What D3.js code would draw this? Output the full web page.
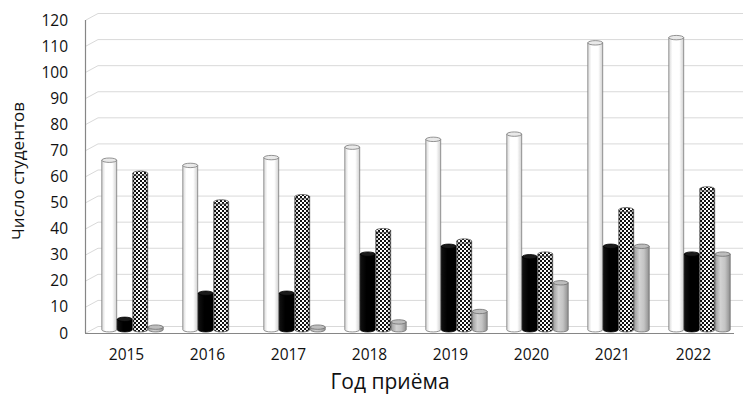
<!DOCTYPE html>
<html>
<head>
<meta charset="utf-8">
<script src="https://cdn.jsdelivr.net/npm/d3@7"></script>
<style>
  html, body { margin: 0; padding: 0; background: #fff; }
  svg { display: block; font-family: "Open Sans", "Noto Sans", sans-serif; }
</style>
</head>
<body>
<svg id="chart" width="743" height="397"></svg>
<script>
// Admission years and four groups of students per year
const years = ["2015", "2016", "2017", "2018", "2019", "2020", "2021", "2022"];
const seriesNames = ["s1", "s2", "s3", "s4"];
const s1 = [65, 63, 66, 70, 73, 75, 110, 112];
const s2 = [4, 14, 14, 29, 32, 28, 32, 29];
const s3 = [60, 49, 51, 38, 34, 29, 46, 54];
const s4 = [1, 0, 1, 3, 7, 18, 32, 29];
const yTicks = [0, 10, 20, 30, 40, 50, 60, 70, 80, 90, 100, 110, 120];
const xTitle = "Год приёма";
const yTitle = "Число студентов";

const seriesValues = [s1, s2, s3, s4];

const svg = d3.select("#chart");
const defs = svg.append("defs");

// Depth offset of the 3D box (front edge -> back wall)
const depthX = 12, depthY = -6.5;

const y = d3.scaleLinear().domain([0, 120]).range([333, 20]);
const x = d3.scaleBand().domain(years).range([86, 734]).paddingInner(0);
const xs = d3.scaleBand().domain(seriesNames).range([-31, 31]).paddingInner(0);

// Cylinder shading gradients
function hGrad(id, stops) {
  const g = defs.append("linearGradient").attr("id", id)
    .attr("x1", "0%").attr("x2", "100%").attr("y1", "0%").attr("y2", "0%");
  stops.forEach(([o, c]) => g.append("stop").attr("offset", o).attr("stop-color", c));
}
hGrad("gWhite", [["0%", "#d8d8d8"], ["25%", "#ffffff"], ["70%", "#ffffff"], ["100%", "#cfcfcf"]]);
hGrad("gBlack", [["0%", "#111"], ["40%", "#000"], ["100%", "#000"]]);
hGrad("gGray", [["0%", "#9e9e9e"], ["35%", "#d2d2d2"], ["65%", "#c4c4c4"], ["100%", "#8f8f8f"]]);
hGrad("gShade", [["0%", "rgba(0,0,0,0.25)"], ["30%", "rgba(0,0,0,0)"], ["70%", "rgba(0,0,0,0)"], ["100%", "rgba(0,0,0,0.3)"]]);

// Checkerboard pattern
const pat = defs.append("pattern").attr("id", "pChecker")
  .attr("width", 4).attr("height", 4).attr("patternUnits", "userSpaceOnUse");
pat.append("rect").attr("width", 4).attr("height", 4).attr("fill", "#fff");
pat.append("rect").attr("width", 2).attr("height", 2).attr("fill", "#111");
pat.append("rect").attr("x", 2).attr("y", 2).attr("width", 2).attr("height", 2).attr("fill", "#111");

const styles = [
  { body: "url(#gWhite)", top: "#e9e9e9", stroke: "#7a7a7a" },
  { body: "url(#gBlack)", top: "#1a1a1a", stroke: "#000" },
  { body: "url(#pChecker)", top: "url(#pChecker)", stroke: "#555", shade: true },
  { body: "url(#gGray)", top: "#bdbdbd", stroke: "#6e6e6e" }
];

// Gridlines: diagonal on the side wall, then across the back wall
const grid = svg.append("g");
yTicks.forEach(v => {
  const yf = y(v);
  grid.append("path")
    .attr("d", `M86,${yf} L${86 + depthX},${yf + depthY} L743,${yf + depthY}`)
    .attr("fill", "none").attr("stroke", "#d9d9d9").attr("stroke-width", 1);
});

// Axis lines
svg.append("line").attr("x1", 85.5).attr("x2", 85.5).attr("y1", y(120)).attr("y2", y(0))
  .attr("stroke", "#868686").attr("stroke-width", 1.2);
svg.append("line").attr("x1", 85).attr("x2", 734).attr("y1", y(0) + 0.5).attr("y2", y(0) + 0.5)
  .attr("stroke", "#868686").attr("stroke-width", 1.2);

// Y tick labels
svg.append("g").selectAll("text").data(yTicks).join("text")
  .attr("x", 68).attr("y", d => y(d)).attr("dy", "0.36em")
  .attr("text-anchor", "end").attr("font-size", 15.5).attr("fill", "#111")
  .text(d => d);

// X tick labels
svg.append("g").selectAll("text").data(years).join("text")
  .attr("x", d => x(d) + x.bandwidth() / 2).attr("y", 360)
  .attr("text-anchor", "middle").attr("font-size", 15.5).attr("fill", "#111")
  .text(d => d);

// Axis titles
svg.append("text").attr("x", 390).attr("y", 389).attr("text-anchor", "middle")
  .attr("font-size", 21).attr("fill", "#111").text(xTitle);
svg.append("text").attr("transform", "translate(24,171) rotate(-90)")
  .attr("text-anchor", "middle").attr("font-size", 17).attr("fill", "#111").text(yTitle);

// Cylinders, standing at mid depth
const midX = depthX / 2, midY = depthY / 2;
const ry = 2.2;
const bars = svg.append("g");
years.forEach((yr, i) => {
  seriesNames.forEach((s, k) => {
    const v = seriesValues[k][i];
    if (v <= 0) return;
    const st = styles[k];
    const x0 = x(yr) + x.bandwidth() / 2 + midX + xs(s) + 0.3;
    const w = xs.bandwidth() - 0.6;
    const x1 = x0 + w;
    const rx = w / 2;
    const base = y(0) + midY;
    const top = y(v) + midY;
    const body = `M${x0},${top} L${x0},${base} A${rx},${ry} 0 0 0 ${x1},${base} L${x1},${top} Z`;
    bars.append("path").attr("d", body).attr("fill", st.body)
      .attr("stroke", st.stroke).attr("stroke-width", 0.8);
    if (st.shade) {
      bars.append("path").attr("d", body).attr("fill", "url(#gShade)").attr("stroke", "none");
    }
    bars.append("ellipse").attr("cx", x0 + rx).attr("cy", top).attr("rx", rx).attr("ry", ry)
      .attr("fill", st.top).attr("stroke", st.stroke).attr("stroke-width", 0.8);
  });
});
</script>
</body>
</html>
